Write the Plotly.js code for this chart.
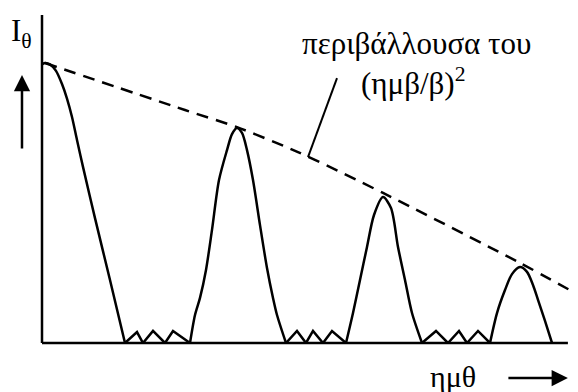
<!DOCTYPE html>
<html>
<head>
<meta charset="utf-8">
<script src="https://cdn.plot.ly/plotly-3.0.1.min.js"></script>
<style>
  html, body { margin: 0; padding: 0; background: #fff; }
  #chart { width: 578px; height: 392px; }
</style>
</head>
<body>
<div id="chart"></div>
<script>
// Diffraction pattern of a grating: intensity I_theta against sin(theta) (arbitrary units).
// Principal maxima, with small secondary maxima between them.
const lobe0X = [0.00, 0.06, 0.16, 0.28, 0.40, 0.50, 0.60, 0.70, 0.82, 1.06, 1.36, 1.66];
const lobe0Y = [0.995, 1.00, 0.995, 0.972, 0.925, 0.873, 0.807, 0.725, 0.629, 0.446, 0.225, 0.00];

const ripple1X = [1.66, 1.90, 2.02, 2.22, 2.46, 2.62, 2.96];
const ripple1Y = [0.00, 0.039, 0.00, 0.043, 0.00, 0.043, 0.00];

const lobe1X = [2.96, 3.06, 3.16, 3.28, 3.40, 3.54, 3.70, 3.80, 3.90, 4.00, 4.10, 4.22, 4.36, 4.50, 4.62, 4.70, 4.88];
const lobe1Y = [0.00, 0.10, 0.161, 0.261, 0.404, 0.582, 0.689, 0.746, 0.768, 0.75, 0.689, 0.582, 0.421, 0.268, 0.161, 0.10, 0.00];

const ripple2X = [4.88, 5.10, 5.28, 5.42, 5.62, 5.80, 6.08];
const ripple2Y = [0.00, 0.043, 0.00, 0.043, 0.00, 0.043, 0.00];

const lobe2X = [6.08, 6.22, 6.36, 6.50, 6.64, 6.82, 6.98, 7.12, 7.26, 7.40, 7.60];
const lobe2Y = [0.00, 0.107, 0.225, 0.343, 0.457, 0.521, 0.482, 0.343, 0.225, 0.107, 0.00];

const ripple3X = [7.60, 7.88, 8.12, 8.34, 8.50, 8.72, 8.96];
const ripple3Y = [0.00, 0.043, 0.00, 0.043, 0.00, 0.043, 0.00];

const lobe3X = [8.96, 9.10, 9.26, 9.40, 9.56, 9.70, 9.82, 9.92, 10.06, 10.20];
const lobe3Y = [0.00, 0.107, 0.189, 0.246, 0.271, 0.254, 0.207, 0.154, 0.079, 0.00];

// Envelope (sin(beta)/beta)^2 touching the principal maxima
const envX = [0.06, 2.86, 3.90, 5.12, 6.82, 9.56, 10.66];
const envY = [1.00, 0.832, 0.771, 0.682, 0.536, 0.286, 0.179];

// Text
const envLabel1 = 'περιβάλλουσα του';
const envLabel2 = '(ημβ/β)<sup>2</sup>';
const yLabel = 'I<sub>θ</sub>';
const xLabel = 'ημθ';

const ink = '#000';
const serif = 'Liberation Serif';
const textSize = 31;

function solid(x, y, smooth) {
  return {
    x: x, y: y, type: 'scatter', mode: 'lines', hoverinfo: 'skip',
    line: { color: ink, width: 2.5, shape: smooth ? 'spline' : 'linear', smoothing: 0.8 }
  };
}

const traces = [
  solid(lobe0X, lobe0Y, true),
  solid(ripple1X, ripple1Y, false),
  solid(lobe1X, lobe1Y, true),
  solid(ripple2X, ripple2Y, false),
  solid(lobe2X, lobe2Y, true),
  solid(ripple3X, ripple3Y, false),
  solid(lobe3X, lobe3Y, true),
  {
    x: envX, y: envY, type: 'scatter', mode: 'lines', hoverinfo: 'skip',
    line: { color: ink, width: 2.5, dash: '12px,8px', shape: 'spline', smoothing: 0.6 }
  }
];

const layout = {
  width: 578, height: 392,
  margin: { l: 42, r: 1, t: 15, b: 49, pad: 0 },
  paper_bgcolor: '#fff', plot_bgcolor: '#fff',
  showlegend: false, hovermode: false,
  font: { family: serif, color: ink },
  xaxis: { range: [0, 10.7], visible: false, fixedrange: true },
  yaxis: { range: [0, 1.1714], visible: false, fixedrange: true },
  shapes: [
    // vertical axis
    { type: 'line', xref: 'paper', yref: 'paper', x0: 0, x1: 0, y0: 0, y1: 1,
      line: { color: ink, width: 2.5 } },
    // horizontal axis
    { type: 'line', xref: 'paper', yref: 'paper', x0: 0, x1: 0.983, y0: 0, y1: 0,
      line: { color: ink, width: 2.5 } },
    // leader from the label to the envelope
    { type: 'line', xref: 'x', yref: 'y', x0: 5.90, y0: 0.946, x1: 5.32, y1: 0.664,
      line: { color: ink, width: 2 } }
  ],
  annotations: [
    { text: envLabel1, xref: 'x', yref: 'y', x: 7.48, y: 1.068, showarrow: false,
      xanchor: 'center', yanchor: 'middle', font: { family: serif, size: textSize, color: ink } },
    { text: envLabel2, xref: 'x', yref: 'y', x: 7.42, y: 0.935, showarrow: false,
      xanchor: 'center', yanchor: 'middle', font: { family: serif, size: textSize, color: ink } },
    { text: yLabel, xref: 'paper', yref: 'paper', x: -0.0374, y: 0.945, showarrow: false,
      xanchor: 'center', yanchor: 'middle', font: { family: serif, size: textSize, color: ink } },
    { text: xLabel, xref: 'paper', yref: 'paper', x: 0.768, y: -0.101, showarrow: false,
      xanchor: 'center', yanchor: 'middle', borderpad: 0,
      font: { family: serif, size: 30, color: ink } },
    // arrow pointing up beside the intensity label
    { text: '', xref: 'paper', yref: 'paper', x: -0.0374, y: 0.817, ax: 0, ay: 75,
      showarrow: true, arrowhead: 2, arrowsize: 1.3, arrowwidth: 2.5, arrowcolor: ink, standoff: 0 },
    // arrow pointing right after the sin(theta) label
    { text: '', xref: 'paper', yref: 'paper', x: 0.983, y: -0.107, ax: -61, ay: 0,
      showarrow: true, arrowhead: 2, arrowsize: 1.3, arrowwidth: 2.5, arrowcolor: ink, standoff: 0 }
  ]
};

Plotly.newPlot('chart', traces, layout, { displayModeBar: false, staticPlot: true });
</script>
</body>
</html>
